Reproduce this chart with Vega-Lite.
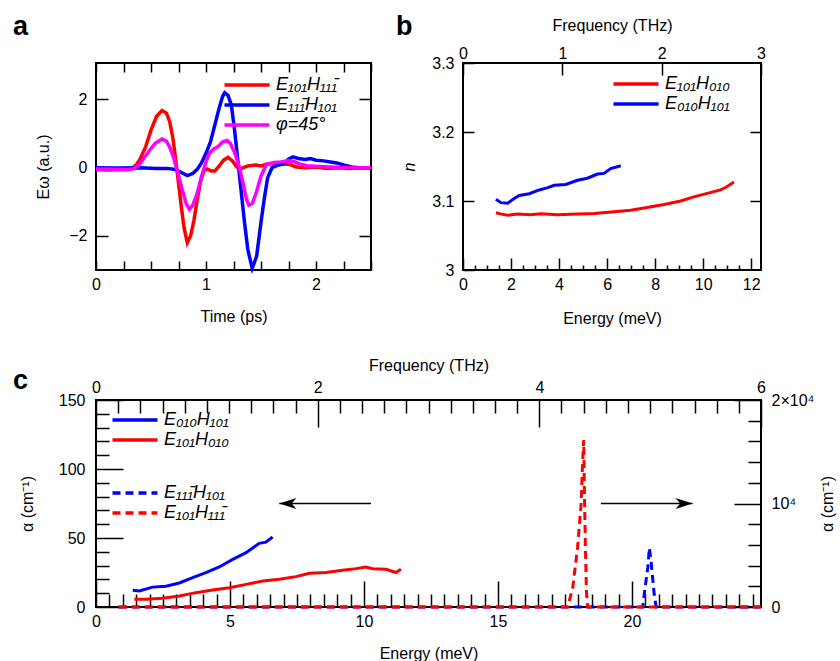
{
"$schema": "https://vega.github.io/schema/vega-lite/v6.json",
"background": "white",
"padding": {"left": 12, "top": 12, "right": 5, "bottom": 0},
"config": {
  "font": "Liberation Sans",
  "view": {"stroke": "black", "strokeWidth": 2},
  "axis": {"domain": false, "grid": false, "labelFontSize": 16, "titleFontSize": 16, "titleFontWeight": "normal", "labelColor": "black", "titleColor": "black", "tickColor": "black", "tickWidth": 1.5, "labelFlush": false, "labelOverlap": false, "labelBound": false},
  "legend": {"orient": "none", "title": null, "labelFontSize": 18, "labelFontStyle": "italic", "labelColor": "black", "symbolType": "M-2.5,0H2.5", "symbolSize": 324, "symbolStrokeWidth": 3.5, "labelOffset": 18, "rowPadding": 0, "padding": 0},
  "title": {"fontSize": 27, "fontWeight": "bold", "anchor": "start", "frame": "group", "color": "black"}
},
"datasets": {
  "a": [
    {"t":0,"v":-0.06,"s":"R"},{"t":0.1,"v":-0.07,"s":"R"},{"t":0.2,"v":-0.06,"s":"R"},{"t":0.3,"v":-0.05,"s":"R"},{"t":0.33,"v":-0.02,"s":"R"},{"t":0.37,"v":0.1,"s":"R"},{"t":0.4,"v":0.25,"s":"R"},{"t":0.45,"v":0.6,"s":"R"},{"t":0.5,"v":1.1,"s":"R"},{"t":0.55,"v":1.5,"s":"R"},{"t":0.6,"v":1.68,"s":"R"},{"t":0.64,"v":1.6,"s":"R"},{"t":0.67,"v":1.35,"s":"R"},{"t":0.7,"v":0.85,"s":"R"},{"t":0.73,"v":0.1,"s":"R"},{"t":0.77,"v":-1.0,"s":"R"},{"t":0.8,"v":-1.75,"s":"R"},{"t":0.83,"v":-2.2,"s":"R"},{"t":0.86,"v":-2.0,"s":"R"},{"t":0.89,"v":-1.55,"s":"R"},{"t":0.92,"v":-0.95,"s":"R"},{"t":0.95,"v":-0.4,"s":"R"},{"t":0.98,"v":-0.1,"s":"R"},{"t":1.01,"v":-0.04,"s":"R"},{"t":1.05,"v":-0.1,"s":"R"},{"t":1.08,"v":-0.1,"s":"R"},{"t":1.12,"v":0.05,"s":"R"},{"t":1.16,"v":0.22,"s":"R"},{"t":1.2,"v":0.3,"s":"R"},{"t":1.24,"v":0.2,"s":"R"},{"t":1.28,"v":0.02,"s":"R"},{"t":1.32,"v":-0.03,"s":"R"},{"t":1.38,"v":0.05,"s":"R"},{"t":1.45,"v":0.08,"s":"R"},{"t":1.5,"v":0.05,"s":"R"},{"t":1.55,"v":0.1,"s":"R"},{"t":1.62,"v":0.12,"s":"R"},{"t":1.7,"v":0.1,"s":"R"},{"t":1.76,"v":0.1,"s":"R"},{"t":1.82,"v":0.02,"s":"R"},{"t":1.9,"v":0.0,"s":"R"},{"t":2.0,"v":0.02,"s":"R"},{"t":2.1,"v":-0.02,"s":"R"},{"t":2.2,"v":0.0,"s":"R"},{"t":2.3,"v":-0.02,"s":"R"},{"t":2.4,"v":0.0,"s":"R"},{"t":2.5,"v":0.0,"s":"R"},
    {"t":0,"v":0.0,"s":"B"},{"t":0.2,"v":-0.01,"s":"B"},{"t":0.4,"v":0.0,"s":"B"},{"t":0.55,"v":-0.02,"s":"B"},{"t":0.65,"v":-0.02,"s":"B"},{"t":0.72,"v":-0.05,"s":"B"},{"t":0.78,"v":-0.15,"s":"B"},{"t":0.83,"v":-0.23,"s":"B"},{"t":0.88,"v":-0.17,"s":"B"},{"t":0.92,"v":-0.05,"s":"B"},{"t":0.96,"v":0.15,"s":"B"},{"t":1.0,"v":0.42,"s":"B"},{"t":1.04,"v":0.75,"s":"B"},{"t":1.08,"v":1.25,"s":"B"},{"t":1.12,"v":1.75,"s":"B"},{"t":1.15,"v":2.08,"s":"B"},{"t":1.17,"v":2.2,"s":"B"},{"t":1.2,"v":2.12,"s":"B"},{"t":1.23,"v":1.85,"s":"B"},{"t":1.26,"v":1.1,"s":"B"},{"t":1.29,"v":0.2,"s":"B"},{"t":1.32,"v":-0.7,"s":"B"},{"t":1.35,"v":-1.6,"s":"B"},{"t":1.38,"v":-2.4,"s":"B"},{"t":1.42,"v":-2.95,"s":"B"},{"t":1.46,"v":-2.6,"s":"B"},{"t":1.5,"v":-1.6,"s":"B"},{"t":1.53,"v":-0.9,"s":"B"},{"t":1.56,"v":-0.3,"s":"B"},{"t":1.6,"v":0.0,"s":"B"},{"t":1.66,"v":0.08,"s":"B"},{"t":1.71,"v":0.12,"s":"B"},{"t":1.75,"v":0.25,"s":"B"},{"t":1.79,"v":0.32,"s":"B"},{"t":1.84,"v":0.27,"s":"B"},{"t":1.9,"v":0.24,"s":"B"},{"t":1.95,"v":0.27,"s":"B"},{"t":2.0,"v":0.22,"s":"B"},{"t":2.07,"v":0.2,"s":"B"},{"t":2.13,"v":0.17,"s":"B"},{"t":2.19,"v":0.14,"s":"B"},{"t":2.25,"v":0.08,"s":"B"},{"t":2.32,"v":0.02,"s":"B"},{"t":2.4,"v":0.0,"s":"B"},{"t":2.5,"v":0.0,"s":"B"},
    {"t":0,"v":-0.04,"s":"M"},{"t":0.3,"v":-0.05,"s":"M"},{"t":0.35,"v":-0.02,"s":"M"},{"t":0.39,"v":0.08,"s":"M"},{"t":0.44,"v":0.3,"s":"M"},{"t":0.49,"v":0.52,"s":"M"},{"t":0.54,"v":0.72,"s":"M"},{"t":0.6,"v":0.84,"s":"M"},{"t":0.64,"v":0.78,"s":"M"},{"t":0.67,"v":0.6,"s":"M"},{"t":0.7,"v":0.35,"s":"M"},{"t":0.74,"v":-0.1,"s":"M"},{"t":0.78,"v":-0.6,"s":"M"},{"t":0.82,"v":-1.05,"s":"M"},{"t":0.85,"v":-1.22,"s":"M"},{"t":0.88,"v":-1.1,"s":"M"},{"t":0.92,"v":-0.75,"s":"M"},{"t":0.96,"v":-0.25,"s":"M"},{"t":1.0,"v":0.17,"s":"M"},{"t":1.03,"v":0.42,"s":"M"},{"t":1.07,"v":0.55,"s":"M"},{"t":1.11,"v":0.62,"s":"M"},{"t":1.15,"v":0.75,"s":"M"},{"t":1.19,"v":0.8,"s":"M"},{"t":1.22,"v":0.72,"s":"M"},{"t":1.26,"v":0.45,"s":"M"},{"t":1.3,"v":0.05,"s":"M"},{"t":1.34,"v":-0.5,"s":"M"},{"t":1.37,"v":-0.95,"s":"M"},{"t":1.39,"v":-1.1,"s":"M"},{"t":1.42,"v":-1.05,"s":"M"},{"t":1.46,"v":-0.7,"s":"M"},{"t":1.5,"v":-0.25,"s":"M"},{"t":1.55,"v":0.1,"s":"M"},{"t":1.62,"v":0.15,"s":"M"},{"t":1.68,"v":0.17,"s":"M"},{"t":1.74,"v":0.2,"s":"M"},{"t":1.8,"v":0.18,"s":"M"},{"t":1.86,"v":0.1,"s":"M"},{"t":1.92,"v":0.06,"s":"M"},{"t":2.0,"v":0.04,"s":"M"},{"t":2.13,"v":0.02,"s":"M"},{"t":2.3,"v":0.0,"s":"M"},{"t":2.5,"v":0.0,"s":"M"}
  ],
  "b": [
    {"E":1.37,"n":3.083,"s":"R"},{"E":1.6,"n":3.081,"s":"R"},{"E":1.86,"n":3.0793,"s":"R"},{"E":2.26,"n":3.081,"s":"R"},{"E":2.8,"n":3.080,"s":"R"},{"E":3.24,"n":3.0816,"s":"R"},{"E":3.92,"n":3.080,"s":"R"},{"E":4.77,"n":3.081,"s":"R"},{"E":5.46,"n":3.082,"s":"R"},{"E":6.29,"n":3.0845,"s":"R"},{"E":6.98,"n":3.0865,"s":"R"},{"E":7.54,"n":3.090,"s":"R"},{"E":8.37,"n":3.095,"s":"R"},{"E":9.06,"n":3.1,"s":"R"},{"E":9.61,"n":3.106,"s":"R"},{"E":10.17,"n":3.111,"s":"R"},{"E":10.72,"n":3.116,"s":"R"},{"E":11.0,"n":3.121,"s":"R"},{"E":11.28,"n":3.1275,"s":"R"},
    {"E":1.37,"n":3.1025,"s":"B"},{"E":1.58,"n":3.0976,"s":"B"},{"E":1.86,"n":3.0967,"s":"B"},{"E":2.1,"n":3.103,"s":"B"},{"E":2.34,"n":3.108,"s":"B"},{"E":2.76,"n":3.1106,"s":"B"},{"E":3.17,"n":3.116,"s":"B"},{"E":3.5,"n":3.119,"s":"B"},{"E":3.8,"n":3.1227,"s":"B"},{"E":4.28,"n":3.124,"s":"B"},{"E":4.77,"n":3.13,"s":"B"},{"E":5.18,"n":3.133,"s":"B"},{"E":5.6,"n":3.139,"s":"B"},{"E":5.87,"n":3.14,"s":"B"},{"E":6.15,"n":3.147,"s":"B"},{"E":6.57,"n":3.151,"s":"B"}
  ],
  "cs": [
    {"E":1.37,"a":12.1,"s":"B"},{"E":1.62,"a":11.6,"s":"B"},{"E":2.11,"a":14.4,"s":"B"},{"E":2.61,"a":15.1,"s":"B"},{"E":3.11,"a":17.4,"s":"B"},{"E":3.61,"a":21.3,"s":"B"},{"E":4.1,"a":24.9,"s":"B"},{"E":4.6,"a":29,"s":"B"},{"E":5.1,"a":34.5,"s":"B"},{"E":5.6,"a":39.4,"s":"B"},{"E":6.09,"a":46.1,"s":"B"},{"E":6.34,"a":47,"s":"B"},{"E":6.59,"a":50.7,"s":"B"},
    {"E":1.43,"a":5.6,"s":"R"},{"E":1.87,"a":5.6,"s":"R"},{"E":2.49,"a":6.3,"s":"R"},{"E":3.11,"a":8,"s":"R"},{"E":3.73,"a":10.4,"s":"R"},{"E":4.35,"a":12.3,"s":"R"},{"E":4.98,"a":14,"s":"R"},{"E":5.6,"a":16.4,"s":"R"},{"E":6.22,"a":18.8,"s":"R"},{"E":6.84,"a":20.1,"s":"R"},{"E":7.46,"a":22,"s":"R"},{"E":7.96,"a":24.4,"s":"R"},{"E":8.58,"a":25,"s":"R"},{"E":9.2,"a":26.6,"s":"R"},{"E":9.7,"a":27.8,"s":"R"},{"E":10.07,"a":29,"s":"R"},{"E":10.32,"a":27.8,"s":"R"},{"E":10.82,"a":27.3,"s":"R"},{"E":11.19,"a":25,"s":"R"},{"E":11.38,"a":27.3,"s":"R"}
  ],
  "cd": [
    {"E":0.85,"a":0,"s":"B"},{"E":20.4,"a":0,"s":"B"},{"E":20.49,"a":1870,"s":"B"},{"E":20.59,"a":3800,"s":"B"},{"E":20.65,"a":5730,"s":"B"},{"E":20.71,"a":4440,"s":"B"},{"E":20.83,"a":1230,"s":"B"},{"E":20.9,"a":0,"s":"B"},{"E":24.81,"a":0,"s":"B"},
    {"E":0.85,"a":0,"s":"R"},{"E":17.6,"a":0,"s":"R"},{"E":17.79,"a":1870,"s":"R"},{"E":17.97,"a":5730,"s":"R"},{"E":18.1,"a":9920,"s":"R"},{"E":18.16,"a":14100,"s":"R"},{"E":18.2,"a":16130,"s":"R"},{"E":18.22,"a":12000,"s":"R"},{"E":18.26,"a":6000,"s":"R"},{"E":18.3,"a":1500,"s":"R"},{"E":18.35,"a":0,"s":"R"},{"E":24.81,"a":0,"s":"R"}
  ],
  "arrows": [
    {"x1":10.26,"x2":6.84,"y":75,"dir":"left"},
    {"x1":18.84,"x2":22.26,"y":75,"dir":"right"}
  ]
},
"bounds": "flush",
"spacing": 337,
"resolve": {"scale": {"color": "independent", "shape": "independent"}, "legend": {"color": "independent"}},
"vconcat": [
  {
    "hconcat": [
      {
        "width": 275, "height": 207,
        "title": {"text": "a", "dx": -83, "offset": 21},
        "data": {"name": "a"},
        "layer": [
          {
            "mark": {"type": "line", "strokeWidth": 3.5},
            "encoding": {
              "x": {"field": "t", "type": "quantitative", "scale": {"domain": [0, 2.5], "nice": false},
                    "axis": {"orient": "bottom", "title": "Time (ps)", "values": [0,0.25,0.5,0.75,1,1.25,1.5,1.75,2,2.25,2.5], "tickSize": -9, "labelPadding": 15, "titlePadding": 16, "labelExpr": "datum.value % 1 === 0 ? format(datum.value, 'd') : ''"}},
              "y": {"field": "v", "type": "quantitative", "scale": {"domain": [-3, 3.07], "nice": false},
                    "axis": {"orient": "left", "title": "E\u03c9 (a.u.)", "values": [-2,0,2], "tickSize": -12, "labelPadding": 21, "titlePadding": 17}},
              "color": {"field": "s", "type": "nominal", "scale": {"domain": ["R","B","M"], "range": ["#ff0000","#0000ff","#ff00ff"]},
                        "legend": {"legendX": 140, "legendY": 11, "labelExpr": "datum.value === 'R' ? 'E\u2081\u2080\u2081H\u2081\u2081\u2081\u0304' : datum.value === 'B' ? 'E\u2081\u2081\u2081\u0304H\u2081\u2080\u2081' : '\u03c6=45\u00b0'"}}
            }
          },
          {
            "mark": {"type": "line", "opacity": 0},
            "encoding": {
              "x": {"field": "t", "type": "quantitative", "scale": {"domain": [0, 2.5], "nice": false},
                    "axis": {"orient": "top", "title": null, "labels": false, "values": [0,0.25,0.5,0.75,1,1.25,1.5,1.75,2,2.25,2.5], "tickSize": -9}},
              "y": {"field": "v", "type": "quantitative", "scale": {"domain": [-3, 3.07], "nice": false},
                    "axis": {"orient": "right", "title": null, "labels": false, "values": [-2,0,2], "tickSize": -12}},
              "detail": {"field": "s"}
            }
          }
        ],
        "resolve": {"axis": {"x": "independent", "y": "independent"}}
      },
      {
        "width": 298, "height": 207,
        "title": {"text": "b", "dx": -67, "offset": -24},
        "data": {"name": "b"},
        "layer": [
          {
            "mark": {"type": "line", "strokeWidth": 3},
            "encoding": {
              "x": {"field": "E", "type": "quantitative", "scale": {"domain": [0, 12.4071], "nice": false},
                    "axis": {"orient": "bottom", "title": "Energy (meV)", "values": [0,0.5,1,1.5,2,2.5,3,3.5,4,4.5,5,5.5,6,6.5,7,7.5,8,8.5,9,9.5,10,10.5,11,11.5,12],
                             "tickSize": {"condition": {"test": "datum.value % 2 === 0", "value": -12}, "value": -5},
                             "labelPadding": {"condition": {"test": "datum.value % 2 === 0", "value": 18}, "value": 11},
                             "titlePadding": 18, "labelExpr": "datum.value % 2 === 0 ? format(datum.value, 'd') : ''"}},
              "y": {"field": "n", "type": "quantitative", "scale": {"domain": [3, 3.3], "nice": false},
                    "axis": {"orient": "left", "title": "n", "titleFontStyle": "italic", "values": [3,3.1,3.2,3.3], "format": "~g", "tickSize": -11, "labelPadding": 20, "titlePadding": 14}},
              "color": {"field": "s", "type": "nominal", "scale": {"domain": ["R","B"], "range": ["#ff0000","#0000ff"]},
                        "legend": {"legendX": 162, "legendY": 10, "labelExpr": "datum.value === 'R' ? 'E\u2081\u2080\u2081H\u2080\u2081\u2080' : 'E\u2080\u2081\u2080H\u2081\u2080\u2081'"}}
            }
          },
          {
            "mark": {"type": "line", "opacity": 0},
            "encoding": {
              "x": {"field": "E", "type": "quantitative", "scale": {"domain": [0, 12.4071], "nice": false},
                    "axis": {"orient": "top", "title": "Frequency (THz)", "values": [0,4.1357,8.2714,12.4071], "tickSize": -12, "labelPadding": 14, "titlePadding": 12, "labelExpr": "format(round(datum.value/4.1357), 'd')"}},
              "y": {"field": "n", "type": "quantitative", "scale": {"domain": [3, 3.3], "nice": false},
                    "axis": {"orient": "right", "title": null, "labels": false, "values": [3.1,3.2], "tickSize": -11}},
              "detail": {"field": "s"}
            }
          }
        ],
        "resolve": {"axis": {"x": "independent", "y": "independent"}}
      }
    ],
    "spacing": 92,
    "bounds": "flush",
    "resolve": {"scale": {"color": "independent"}, "legend": {"color": "independent"}}
  },
  {
    "width": 665, "height": 207,
    "title": {"text": "c", "dx": -83, "offset": -38},
    "layer": [
      {
        "data": {"name": "cd"},
        "mark": {"type": "line", "strokeWidth": 3, "strokeDash": [8, 5]},
        "encoding": {
          "x": {"field": "E", "type": "quantitative", "scale": {"domain": [0, 24.8142], "nice": false},
                "axis": {"orient": "top", "title": "Frequency (THz)", "values": [0,0.82714,1.65428,2.48142,3.30856,4.1357,4.96284,5.78998,6.61712,7.44426,8.2714,9.09854,9.92568,10.75282,11.57996,12.4071,13.23424,14.06138,14.88852,15.71566,16.5428,17.36994,18.19708,19.02422,19.85136,20.6785,21.50564,22.33278,23.15992,23.98706,24.8142],
                         "tickSize": {"condition": {"test": "abs(datum.value/8.2714 - round(datum.value/8.2714)) < 0.001", "value": -27}, "value": -13},
                         "labelPadding": {"condition": {"test": "abs(datum.value/8.2714 - round(datum.value/8.2714)) < 0.001", "value": 32}, "value": 18},
                         "titlePadding": 6,
                         "labelExpr": "abs(datum.value/8.2714 - round(datum.value/8.2714)) < 0.001 ? format(round(datum.value/4.1357), 'd') : ''"}},
          "y": {"field": "a", "type": "quantitative", "scale": {"domain": [0, 20000], "nice": false},
                "axis": {"orient": "right", "title": "\u03b1 (cm\u207b\u00b9)", "titleAngle": -90, "titleBaseline": "top", "values": [0,2000,4000,6000,8000,10000,12000,14000,16000,18000,20000],
                         "tickSize": {"condition": {"test": "datum.value % 10000 === 0", "value": -27}, "value": -13},
                         "labelPadding": {"condition": {"test": "datum.value % 10000 === 0", "value": 37}, "value": 23},
                         "titlePadding": 6,
                         "labelExpr": "datum.value === 0 ? '0' : datum.value === 10000 ? '10\u2074' : datum.value === 20000 ? '2\u00d710\u2074' : ''"}},
          "color": {"field": "s", "type": "nominal", "scale": {"domain": ["B","R"], "range": ["#0000ff","#ff0000"]},
                    "legend": {"legendX": 28, "legendY": 82, "symbolDash": [8, 5], "labelExpr": "datum.value === 'B' ? 'E\u2081\u2081\u2081\u0304H\u2081\u2080\u2081' : 'E\u2081\u2080\u2081H\u2081\u2081\u2081\u0304'"}}
        }
      },
      {
        "data": {"name": "cs"},
        "mark": {"type": "line", "strokeWidth": 3},
        "encoding": {
          "x": {"field": "E", "type": "quantitative", "scale": {"domain": [0, 24.8142], "nice": false},
                "axis": {"orient": "bottom", "title": "Energy (meV)", "values": [0,0.5,1,1.5,2,2.5,3,3.5,4,4.5,5,5.5,6,6.5,7,7.5,8,8.5,9,9.5,10,10.5,11,11.5,12,12.5,13,13.5,14,14.5,15,15.5,16,16.5,17,17.5,18,18.5,19,19.5,20,20.5,21,21.5,22,22.5,23,23.5,24,24.5],
                         "tickSize": {"condition": {"test": "datum.value % 5 === 0", "value": -26}, "value": -13},
                         "labelPadding": {"condition": {"test": "datum.value % 5 === 0", "value": 32}, "value": 19},
                         "titlePadding": 16,
                         "labelExpr": "datum.value % 5 === 0 ? format(datum.value, 'd') : ''"}},
          "y": {"field": "a", "type": "quantitative", "scale": {"domain": [0, 150], "nice": false},
                "axis": {"orient": "left", "title": "\u03b1 (cm\u207b\u00b9)", "values": [0,10,20,30,40,50,60,70,80,90,100,110,120,130,140,150],
                         "tickSize": {"condition": {"test": "datum.value % 50 === 0", "value": -27}, "value": -13},
                         "labelPadding": {"condition": {"test": "datum.value % 50 === 0", "value": 38}, "value": 24},
                         "titlePadding": 23,
                         "labelExpr": "datum.value % 50 === 0 ? format(datum.value, 'd') : ''"}},
          "color": {"field": "s", "type": "nominal", "scale": {"domain": ["B","R"], "range": ["#0000ff","#ff0000"]},
                    "legend": {"legendX": 28, "legendY": 9, "labelExpr": "datum.value === 'B' ? 'E\u2080\u2081\u2080H\u2081\u2080\u2081' : 'E\u2081\u2080\u2081H\u2080\u2081\u2080'"}}
        }
      },
      {
        "data": {"name": "arrows"},
        "mark": {"type": "rule", "strokeWidth": 1.5, "color": "black"},
        "encoding": {
          "x": {"field": "x1", "type": "quantitative", "scale": {"domain": [0, 24.8142], "nice": false}, "axis": null},
          "x2": {"field": "x2"},
          "y": {"field": "y", "type": "quantitative", "scale": {"domain": [0, 150], "nice": false}, "axis": null}
        }
      },
      {
        "data": {"name": "arrows"},
        "mark": {"type": "point", "filled": true, "color": "black", "opacity": 1, "size": 289, "strokeWidth": 0},
        "encoding": {
          "x": {"field": "x2", "type": "quantitative", "scale": {"domain": [0, 24.8142], "nice": false}, "axis": null},
          "y": {"field": "y", "type": "quantitative", "scale": {"domain": [0, 150], "nice": false}, "axis": null},
          "shape": {"field": "dir", "type": "nominal", "scale": {"domain": ["left","right"], "range": ["M0,0L2,-0.65L1.45,0L2,0.65Z", "M0,0L-2,-0.65L-1.45,0L-2,0.65Z"]}, "legend": null}
        }
      }
    ],
    "resolve": {"scale": {"y": "independent", "color": "independent"}, "axis": {"x": "independent", "y": "independent"}, "legend": {"color": "independent"}}
  }
]
}
